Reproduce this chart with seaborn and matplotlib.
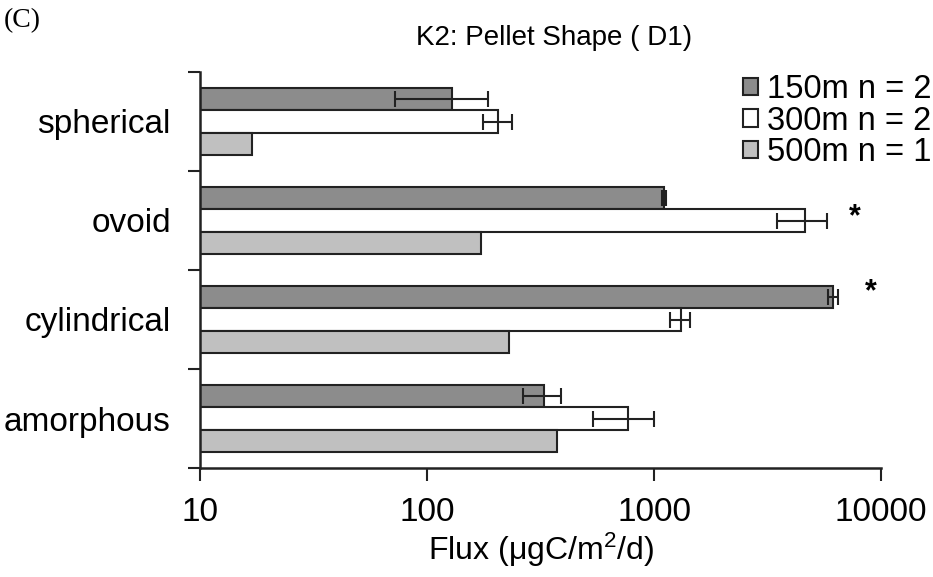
import matplotlib
matplotlib.use("Agg")
import matplotlib.pyplot as plt
import seaborn as sns
import pandas as pd
import numpy as np
from matplotlib.ticker import FixedLocator, NullLocator, FixedFormatter

categories = ["spherical", "ovoid", "cylindrical", "amorphous"]
depths = ["150m n = 2", "300m n = 2", "500m n = 1"]
flux_150 = [129, 1110, 6150, 327]
err_150 = [57, 20, 300, 62]
flux_300 = [206, 4620, 1310, 767]
err_300 = [30, 1150, 130, 230]
flux_500 = [17, 173, 230, 374]
err_500 = [0, 0, 0, 0]
xticks = [10, 100, 1000, 10000]
xtick_labels = ["10", "100", "1000", "10000"]
colors = ["#8c8c8c", "#ffffff", "#c0c0c0"]

sns.set_theme(style="ticks")
plt.rcParams["font.family"] = ["Liberation Sans", "DejaVu Sans"]
plt.rcParams["mathtext.fontset"] = "custom"
plt.rcParams["mathtext.rm"] = "Liberation Sans"
plt.rcParams["mathtext.default"] = "regular"
plt.rcParams["text.color"] = "black"
plt.rcParams["axes.labelcolor"] = "black"
plt.rcParams["xtick.color"] = "black"
plt.rcParams["ytick.color"] = "black"

rows = []
for name, vals in [(depths[0], flux_150), (depths[1], flux_300), (depths[2], flux_500)]:
    for c, v in zip(categories, vals):
        rows.append({"shape": c, "flux": v, "depth": name})
df = pd.DataFrame(rows)

fig = plt.figure(figsize=(9.33, 5.77), dpi=100)
ax = fig.add_axes([200/933, 1-468/577, (881-200)/933, (468-72)/577])

sns.barplot(data=df, y="shape", x="flux", hue="depth", order=categories,
            hue_order=depths, palette=colors, orient="h", width=0.67,
            edgecolor="#222222", linewidth=1.5, errorbar=None,
            ax=ax, legend=True)
ax.set_xscale("log")

errs = [err_150, err_300, err_500]
vals_all = [flux_150, flux_300, flux_500]
centers_all = []
for cont, vals, e in zip(ax.containers, vals_all, errs):
    centers = [p.get_y() + p.get_height()/2 for p in cont.patches]
    centers_all.append(centers)
    if any(x > 0 for x in e):
        ax.errorbar(vals, centers, xerr=e, fmt="none", ecolor="#222222",
                    elinewidth=1.5, capsize=6, capthick=1.5, zorder=5)

# significance asterisks
ax.annotate("*", xy=(flux_300[1] + err_300[1], centers_all[1][1]),
            xytext=(20, 2), textcoords="offset points", ha="center",
            va="center", fontsize=22, fontweight="bold")
ax.annotate("*", xy=(flux_150[2] + err_150[2], centers_all[0][2]),
            xytext=(24, 4), textcoords="offset points", ha="center",
            va="center", fontsize=22, fontweight="bold")

ax.set_xlim(10, 10000)
ax.set_ylim(3.5, -0.5)
ax.xaxis.set_major_locator(FixedLocator(xticks))
ax.xaxis.set_major_formatter(FixedFormatter(xtick_labels))
ax.xaxis.set_minor_locator(NullLocator())

ax.yaxis.set_major_locator(FixedLocator([-0.5, 0.5, 1.5, 2.5, 3.5]))
ax.yaxis.set_major_formatter(FixedFormatter(["", "", "", "", ""]))
ax.yaxis.set_minor_locator(FixedLocator([0, 1, 2, 3]))
ax.yaxis.set_minor_formatter(FixedFormatter(categories))
ax.tick_params(axis="y", which="minor", length=0, pad=21, labelsize=24)
ax.tick_params(axis="y", which="major", length=9, width=1.5, color="#222222")
ax.tick_params(axis="x", which="major", length=9, width=1.5, color="#222222",
               labelsize=24, pad=12)

for s in ["top", "right"]:
    ax.spines[s].set_visible(False)
for s in ["left", "bottom"]:
    ax.spines[s].set_linewidth(1.8)
    ax.spines[s].set_color("#222222")

ax.set_ylabel("")
ax.set_xlabel("Flux (μgC/m$^{2}$/d)", fontsize=23, labelpad=2)

handles, labels = ax.get_legend_handles_labels()
ax.get_legend().remove()
fig.legend(handles, labels, loc="upper left",
           bbox_to_anchor=(743/933, 1-74/577), frameon=False, fontsize=23.5,
           handlelength=0.45, handleheight=0.45, handletextpad=0.3,
           labelspacing=0.02, borderpad=0, borderaxespad=0)

fig.text(554/933, 1-38/577, "K2: Pellet Shape ( D1)", ha="center",
         va="center", fontsize=20)
fig.text(4/933, 1-21/577, "(C)", ha="left", va="center", fontsize=20,
         family="Liberation Serif")

fig.savefig("out.png", dpi=100)
